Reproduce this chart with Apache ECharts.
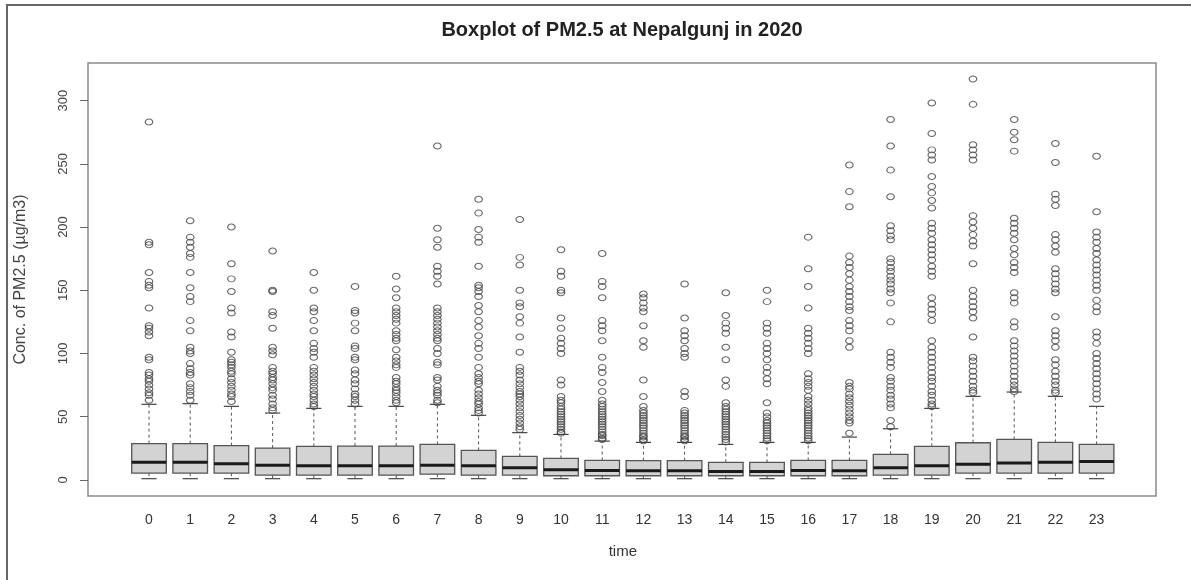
<!DOCTYPE html>
<html>
<head>
    <meta charset="utf-8">
    <title>Boxplot of PM2.5 at Nepalgunj in 2020</title>
    <script src="https://cdn.jsdelivr.net/npm/echarts@6/dist/echarts.min.js"></script>
</head>
<body style="margin:0;background:#fff;">
    <div id="main" style="width:1191px;height:580px;"></div>
    <script type="text/javascript">
        // hour of day
        var hours = ['0', '1', '2', '3', '4', '5', '6', '7', '8', '9', '10', '11',
            '12', '13', '14', '15', '16', '17', '18', '19', '20', '21', '22', '23'];
        // box statistics (ug/m3)
        var lowWhisker = [1, 1, 1, 1, 1, 1, 1, 1, 1, 1, 1, 1, 1, 1, 1, 1, 1, 1, 1, 1, 1, 1, 1, 1];
        var q1 = [5.4, 5.4, 5.4, 3.8, 3.8, 3.8, 3.8, 4.6, 3.8, 3.8, 3.3, 3.3, 3.3, 3.3, 3.3, 3.3, 3.3, 3.3, 3.8, 3.8, 5.4, 5.4, 5.4, 5.4];
        var median = [13.9, 13.9, 12.8, 11.7, 11.2, 11.2, 11.2, 11.7, 11.2, 9.6, 8.1, 7.5, 7.3, 7.3, 6.7, 6.7, 7.5, 7.3, 9.6, 11.2, 12.5, 13.3, 13.9, 14.6];
        var q3 = [28.7, 28.7, 27.1, 25.2, 26.5, 26.8, 26.8, 28.1, 23.4, 18.6, 17.0, 15.4, 15.2, 15.2, 13.9, 13.9, 15.4, 15.4, 20.2, 26.5, 29.4, 32.1, 29.7, 28.1];
        var highWhisker = [59.8, 60.3, 58.2, 52.9, 56.6, 58.2, 58.2, 59.8, 51.1, 37.4, 36.0, 30.7, 29.7, 29.7, 28.1, 29.7, 29.7, 33.9, 40.5, 56.6, 66.1, 69.5, 66.1, 58.2];
        // outliers per hour
        var outliers = [
            [283, 188, 186, 164, 157, 154, 152, 136, 122, 120, 117, 114, 97, 95, 85, 83, 80, 78, 75, 72, 69, 67, 63],
            [205, 192, 188, 184, 179, 176, 164, 152, 145, 141, 126, 118, 105, 102, 100, 92, 88, 85, 83, 76, 73, 70, 67, 63],
            [200, 171, 159, 149, 136, 132, 117, 113, 101, 95, 93, 91, 89, 86, 84, 80, 77, 74, 71, 68, 66, 62],
            [181, 150, 149, 133, 130, 120, 105, 102, 99, 89, 86, 84, 81, 79, 76, 73, 71, 67, 64, 60, 57, 55],
            [164, 150, 136, 133, 126, 118, 108, 104, 101, 97, 89, 86, 83, 80, 77, 74, 71, 68, 66, 63, 60, 58],
            [153, 134, 132, 124, 118, 106, 104, 97, 95, 87, 84, 79, 76, 72, 68, 66, 63, 60],
            [161, 151, 144, 136, 133, 130, 127, 124, 118, 115, 112, 110, 103, 97, 94, 91, 89, 81, 78, 76, 73, 71, 69, 66, 63, 61],
            [264, 199, 190, 184, 169, 165, 161, 155, 136, 133, 130, 127, 124, 121, 118, 115, 112, 110, 104, 100, 93, 91, 81, 79, 74, 71, 69, 67, 63, 61],
            [222, 211, 198, 192, 188, 169, 154, 152, 149, 145, 138, 133, 126, 121, 114, 108, 104, 97, 89, 84, 81, 78, 76, 71, 68, 65, 62, 60, 57, 55, 53],
            [206, 176, 170, 150, 140, 137, 129, 124, 113, 101, 89, 86, 83, 79, 76, 73, 70, 68, 66, 63, 60, 57, 54, 51, 48, 45, 42, 40],
            [182, 165, 161, 150, 148, 128, 120, 112, 108, 104, 100, 79, 75, 66, 63, 61, 58, 56, 54, 52, 50, 48, 46, 44, 42, 40, 38, 37],
            [179, 157, 153, 144, 126, 122, 118, 110, 97, 89, 85, 77, 70, 63, 60, 58, 56, 54, 52, 50, 48, 46, 44, 42, 40, 38, 36, 35, 33, 32],
            [147, 144, 140, 136, 133, 122, 110, 105, 79, 66, 58, 55, 53, 51, 49, 47, 45, 43, 41, 39, 37, 35, 34, 32, 31],
            [155, 128, 118, 114, 110, 104, 100, 97, 70, 66, 55, 53, 51, 49, 47, 45, 43, 41, 39, 37, 35, 34, 32, 31],
            [148, 130, 124, 120, 116, 105, 95, 79, 74, 61, 58, 56, 54, 52, 50, 48, 46, 44, 42, 40, 38, 36, 34, 32, 30],
            [150, 141, 124, 120, 116, 108, 104, 100, 95, 89, 85, 80, 76, 61, 53, 50, 47, 45, 43, 41, 39, 37, 35, 33, 31],
            [192, 167, 153, 136, 120, 116, 112, 108, 104, 100, 84, 80, 77, 74, 71, 66, 63, 60, 57, 55, 53, 51, 49, 47, 45, 43, 41, 39, 37, 35, 33, 31],
            [249, 228, 216, 177, 172, 168, 163, 158, 153, 149, 145, 141, 137, 134, 126, 122, 118, 110, 105, 77, 74, 72, 68, 65, 62, 59, 56, 53, 50, 47, 45, 37],
            [285, 264, 245, 224, 201, 197, 193, 190, 175, 172, 168, 165, 161, 158, 155, 151, 148, 140, 125, 101, 97, 93, 89, 81, 78, 74, 71, 67, 64, 60, 57, 47, 42],
            [298, 274, 261, 257, 253, 240, 232, 227, 221, 215, 203, 199, 195, 190, 186, 182, 178, 174, 169, 165, 161, 144, 139, 135, 131, 126, 110, 105, 101, 97, 93, 89, 85, 81, 78, 74, 70, 67, 63, 60, 58],
            [317, 297, 265, 261, 257, 253, 209, 204, 199, 194, 189, 185, 171, 150, 145, 141, 137, 133, 128, 113, 97, 94, 90, 86, 82, 78, 74, 71, 69],
            [285, 275, 269, 260, 207, 203, 199, 195, 190, 183, 178, 172, 168, 164, 148, 144, 140, 125, 121, 110, 106, 102, 98, 94, 90, 86, 82, 78, 75, 72, 70],
            [266, 251, 226, 222, 217, 194, 190, 185, 180, 167, 163, 159, 155, 151, 148, 129, 118, 114, 110, 105, 95, 91, 86, 82, 78, 75, 71, 69],
            [256, 212, 196, 192, 188, 183, 179, 174, 170, 166, 162, 158, 154, 150, 142, 137, 133, 117, 113, 108, 100, 96, 92, 88, 84, 80, 76, 72, 68, 64]
        ];
        var yTicks = [0, 50, 100, 150, 200, 250, 300];
        var yMin = -12.7, yMax = 329.7;

        var font = 'Liberation Sans, Arial, sans-serif';

        var boxData = hours.map(function (h, i) {
            return [i, lowWhisker[i], q1[i], median[i], q3[i], highWhisker[i]];
        });
        var outData = [];
        outliers.forEach(function (vals, i) {
            vals.forEach(function (v) { outData.push([i, v]); });
        });

        function renderBox(params, api) {
            var x = api.value(0);
            var lo = api.coord([x, api.value(1)]);
            var b1 = api.coord([x, api.value(2)]);
            var md = api.coord([x, api.value(3)]);
            var b3 = api.coord([x, api.value(4)]);
            var hi = api.coord([x, api.value(5)]);
            var bw = api.size([1, 0])[0] * 0.84;
            var cx = lo[0];
            var cap = bw * 0.22;
            var dash = { stroke: '#555', lineWidth: 1, lineDash: [3, 3] };
            return {
                type: 'group',
                children: [
                    { type: 'line', shape: { x1: cx, y1: b3[1], x2: cx, y2: hi[1] }, style: dash },
                    { type: 'line', shape: { x1: cx, y1: b1[1], x2: cx, y2: lo[1] }, style: dash },
                    { type: 'line', shape: { x1: cx - cap, y1: hi[1], x2: cx + cap, y2: hi[1] }, style: { stroke: '#444', lineWidth: 1.2 } },
                    { type: 'line', shape: { x1: cx - cap, y1: lo[1], x2: cx + cap, y2: lo[1] }, style: { stroke: '#444', lineWidth: 1.2 } },
                    { type: 'rect', shape: { x: cx - bw / 2, y: b3[1], width: bw, height: b1[1] - b3[1] }, style: { fill: '#d3d3d3', stroke: '#555', lineWidth: 1.3 } },
                    { type: 'line', shape: { x1: cx - bw / 2, y1: md[1], x2: cx + bw / 2, y2: md[1] }, style: { stroke: '#1a1a1a', lineWidth: 3 } }
                ]
            };
        }

        var chart = echarts.init(document.getElementById('main'));
        chart.setOption({
            backgroundColor: '#fff',
            animation: false,
            title: {
                text: 'Boxplot of PM2.5 at Nepalgunj in 2020',
                left: 622,
                textAlign: 'center',
                top: 20,
                padding: 0,
                textStyle: { fontFamily: font, fontSize: 20, fontWeight: 'bold', color: '#222' }
            },
            graphic: [{
                type: 'polyline',
                shape: { points: [[7, 580], [7, 5], [1191, 5]] },
                style: { stroke: '#666', lineWidth: 2, fill: null }
            }],
            grid: [
                { left: 88, top: 63, width: 1068, height: 433, show: true, borderColor: '#8a8a8a', borderWidth: 1.5, backgroundColor: 'transparent' },
                { left: 128.4, top: 63, width: 988.8, height: 433 }
            ],
            xAxis: [
                { gridIndex: 0, type: 'value', min: 0, max: 1, show: false },
                {
                    gridIndex: 1,
                    type: 'category',
                    data: hours,
                    name: 'time',
                    nameLocation: 'middle',
                    nameGap: 48,
                    nameTextStyle: { fontFamily: font, fontSize: 15, color: '#333' },
                    axisLine: { show: false },
                    axisTick: { alignWithLabel: true, length: 8, lineStyle: { color: '#666' } },
                    axisLabel: { margin: 17, fontFamily: font, fontSize: 14, color: '#333' },
                    splitLine: { show: false }
                }
            ],
            yAxis: [
                {
                    gridIndex: 0,
                    type: 'value',
                    min: yMin,
                    max: yMax,
                    name: 'Conc. of PM2.5 (µg/m3)',
                    nameLocation: 'middle',
                    nameGap: 59,
                    nameTextStyle: { fontFamily: font, fontSize: 16, color: '#444' },
                    axisLine: { show: false },
                    axisTick: { show: true, length: 8, customValues: yTicks, lineStyle: { color: '#666' } },
                    axisLabel: { rotate: 90, margin: 18, customValues: yTicks, fontFamily: font, fontSize: 13, color: '#444' },
                    splitLine: { show: false }
                },
                { gridIndex: 1, type: 'value', min: yMin, max: yMax, show: false, splitLine: { show: false } }
            ],
            series: [
                {
                    type: 'custom',
                    xAxisIndex: 1,
                    yAxisIndex: 1,
                    renderItem: renderBox,
                    encode: { x: 0, y: [1, 2, 3, 4, 5] },
                    data: boxData,
                    z: 2
                },
                {
                    type: 'scatter',
                    xAxisIndex: 1,
                    yAxisIndex: 1,
                    symbol: 'circle',
                    symbolSize: [7.5, 6],
                    itemStyle: { color: 'rgba(255,255,255,0)', borderColor: '#444', borderWidth: 1.1 },
                    data: outData,
                    z: 3
                }
            ]
        });
    </script>
</body>
</html>
